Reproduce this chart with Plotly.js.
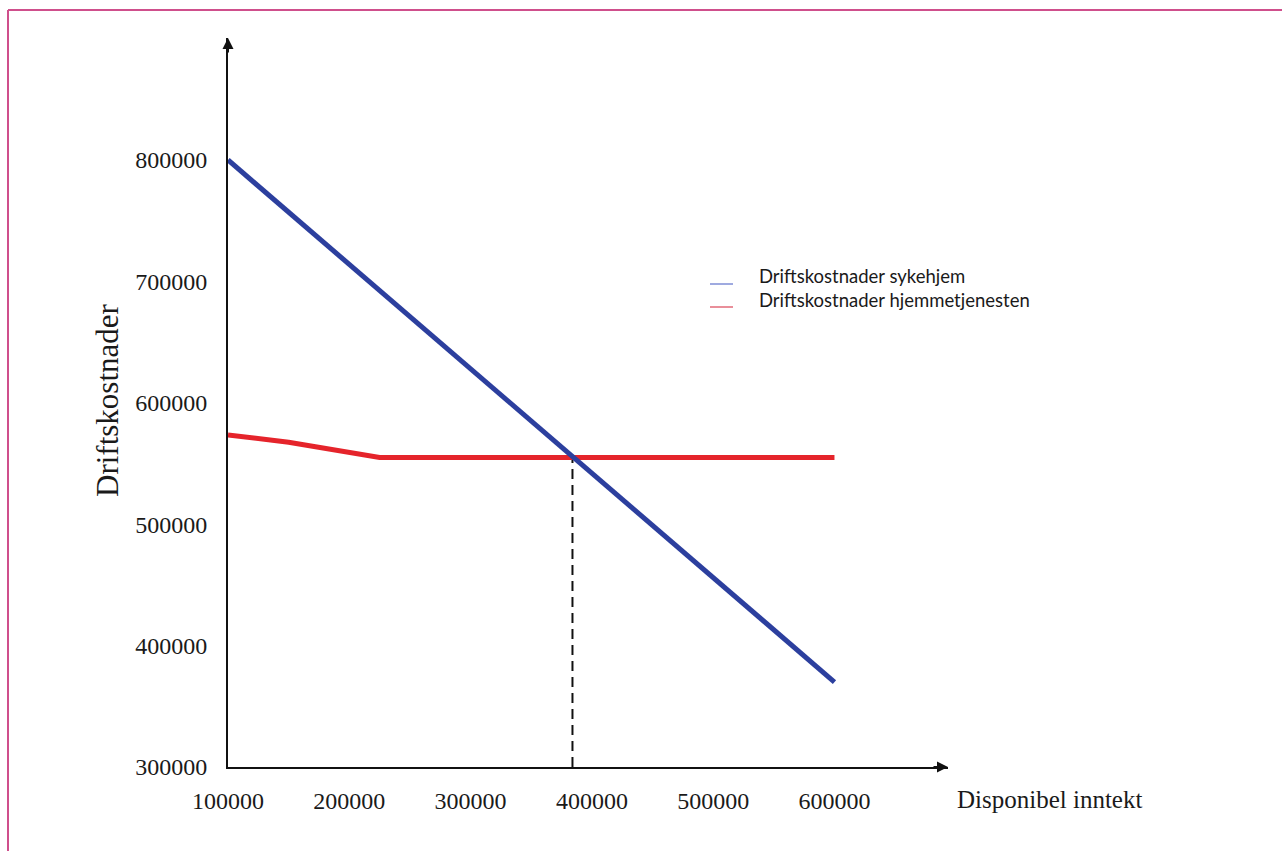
<!DOCTYPE html>
<html>
<head>
<meta charset="utf-8">
<script src="https://cdn.plot.ly/plotly-3.0.1.min.js"></script>
<style>
  html, body { margin: 0; padding: 0; background: #ffffff; }
  #chart { width: 1282px; height: 851px; }
</style>
</head>
<body>
<div id="chart"></div>
<script>
// ---- data ----
const seriesNames = ["Driftskostnader sykehjem", "Driftskostnader hjemmetjenesten"];
const sykehjemX = [100000, 600000];
const sykehjemY = [800000, 370000];
const hjemmeX = [100000, 150000, 225000, 600000];
const hjemmeY = [573500, 567500, 555000, 555000];
const crossX = [384000, 384000];
const crossY = [300000, 555000];
const xTickVals = [100000, 200000, 300000, 400000, 500000, 600000];
const xTickText = ["100000", "200000", "300000", "400000", "500000", "600000"];
const yTickVals = [300000, 400000, 500000, 600000, 700000, 800000];
const yTickText = ["300000", "400000", "500000", "600000", "700000", "800000"];
const xTitle = "Disponibel inntekt";
const yTitle = "Driftskostnader";

// ---- layout geometry ----
const W = 1282, H = 851;
const M = { l: 228, r: 334, t: 38, b: 84 };
const PW = W - M.l - M.r, PH = H - M.t - M.b;
const px = x => (x - M.l) / PW;          // pixel -> paper x
const py = y => (H - M.b - y) / PH;      // pixel -> paper y

const blue = "#2c3f9e";
const red = "#e5242b";
const serif = "Liberation Serif, Times New Roman, serif";

const traces = [
  { x: crossX, y: crossY, mode: "lines", showlegend: false, hoverinfo: "skip",
    line: { color: "#111", width: 2, dash: "10px,6px" } },
  { x: hjemmeX, y: hjemmeY, mode: "lines", name: seriesNames[1], showlegend: false,
    line: { color: red, width: 5 } },
  { x: sykehjemX, y: sykehjemY, mode: "lines", name: seriesNames[0], showlegend: false,
    line: { color: blue, width: 5 } }
];

const axisCommon = {
  showgrid: false, zeroline: false, showline: true, linecolor: "#111", linewidth: 2,
  ticks: "outside", tickcolor: "rgba(0,0,0,0)", fixedrange: true,
  tickfont: { family: serif, size: 24, color: "#1a1a1a" }
};

const layout = {
  width: W, height: H, autosize: false,
  margin: { l: M.l, r: M.r, t: M.t, b: M.b, pad: 0 },
  paper_bgcolor: "#ffffff", plot_bgcolor: "#ffffff",
  showlegend: false,
  xaxis: Object.assign({}, axisCommon, {
    range: [100000, 693600], tickvals: xTickVals, ticktext: xTickText, ticklen: 11
  }),
  yaxis: Object.assign({}, axisCommon, {
    range: [300000, 900500], tickvals: yTickVals, ticktext: yTickText, ticklen: 14
  }),
  shapes: [
    // page border (left and top)
    { type: "line", xref: "paper", yref: "paper", x0: px(8), x1: px(8), y0: py(10), y1: py(860),
      line: { color: "#cf4f8c", width: 2 } },
    { type: "line", xref: "paper", yref: "paper", x0: px(8), x1: px(1290), y0: py(10), y1: py(10),
      line: { color: "#cf4f8c", width: 2 } },
    // legend samples
    { type: "line", xref: "paper", yref: "paper", x0: px(710), x1: px(733), y0: py(284), y1: py(284),
      line: { color: "#7f8ed6", width: 1.5 } },
    { type: "line", xref: "paper", yref: "paper", x0: px(710), x1: px(733), y0: py(307), y1: py(307),
      line: { color: "#e26a78", width: 1.5 } }
  ],
  annotations: [
    // arrow heads
    { x: 693600, y: 300000, xref: "x", yref: "y", ax: -16, ay: 0, text: "",
      showarrow: true, arrowhead: 2, arrowsize: 1.1, arrowwidth: 2, arrowcolor: "#111" },
    { x: 100000, y: 900500, xref: "x", yref: "y", ax: 0, ay: 16, text: "",
      showarrow: true, arrowhead: 2, arrowsize: 1.1, arrowwidth: 2, arrowcolor: "#111" },
    // axis titles
    { x: px(955), y: py(800), xref: "paper", yref: "paper", xanchor: "left", yanchor: "middle",
      text: xTitle, showarrow: false, font: { family: serif, size: 25, color: "#1a1a1a" } },
    { x: px(107), y: py(400), xref: "paper", yref: "paper", xanchor: "center", yanchor: "middle",
      text: yTitle, textangle: -90, showarrow: false, font: { family: serif, size: 31, color: "#1a1a1a" } },
    // legend text
    { x: px(757), y: py(276), xref: "paper", yref: "paper", xanchor: "left", yanchor: "middle",
      text: seriesNames[0], showarrow: false, font: { family: "Lato, sans-serif", size: 18.5, color: "#1a1a1a" } },
    { x: px(757), y: py(300), xref: "paper", yref: "paper", xanchor: "left", yanchor: "middle",
      text: seriesNames[1], showarrow: false, font: { family: "Lato, sans-serif", size: 18.5, color: "#1a1a1a" } }
  ]
};

Plotly.newPlot("chart", traces, layout, { staticPlot: true, displayModeBar: false });
</script>
</body>
</html>
